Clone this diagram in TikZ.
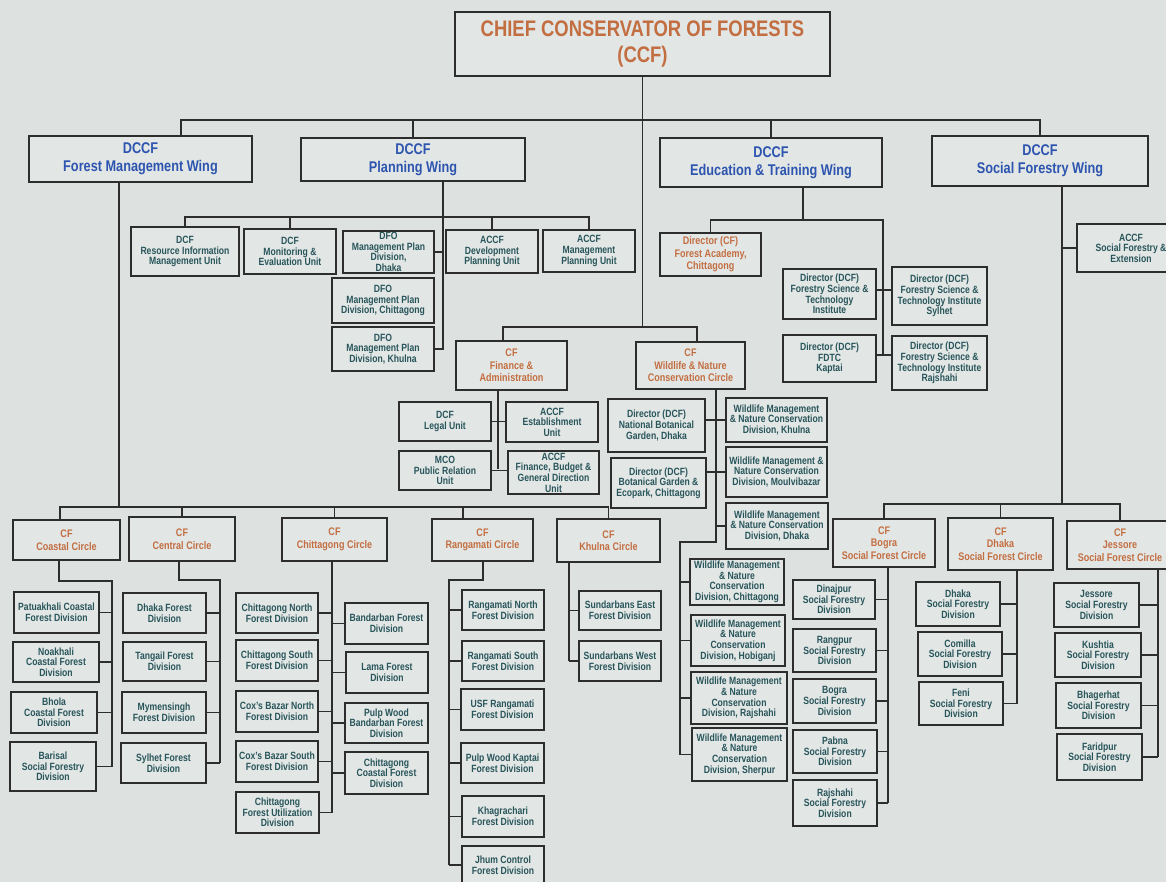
\documentclass[tikz,border=0pt]{standalone}
\usepackage{fontspec}
\setmainfont{Liberation Sans}[FakeStretch=0.82]
\usetikzlibrary{shadows}

\definecolor{paper}{RGB}{221,225,224}
\definecolor{boxfill}{RGB}{226,230,229}
\definecolor{inkline}{RGB}{45,45,45}
\definecolor{wingblue}{RGB}{45,85,175}
\definecolor{circorange}{RGB}{195,110,65}
\definecolor{unitteal}{RGB}{40,85,90}

\begin{document}
\begin{tikzpicture}[x=1pt, y=-1pt,
  link/.style={draw=inkline, line width=1.4pt},
  unitbox/.style={draw=inkline, line width=1.4pt, fill=boxfill, align=center,
    inner xsep=1pt, inner ysep=0pt, text=unitteal,
    font=\fontsize{10.5}{10.6}\selectfont\bfseries},
  circlebox/.style={unitbox, text=circorange, font=\fontsize{11}{12.5}\selectfont\bfseries},
  wingbox/.style={unitbox, text=wingblue, font=\fontsize{15.5}{18}\selectfont\bfseries},
  chiefbox/.style={unitbox, text=circorange, font=\fontsize{22.5}{26}\selectfont\bfseries},
  heavy/.style={drop shadow={shadow xshift=1.3pt, shadow yshift=-1.3pt, fill=inkline, opacity=1}}]
  % a box from its corners: [style]{name}{x1}{y1}{x2}{y2}{text}
  \newcommand{\orgbox}[7][unitbox]{%
    \node[#1, minimum width={(#5-#3)*1pt}, minimum height={(#6-#4)*1pt}]
      (#2) at ({(#3+#5)/2},{(#4+#6)/2}) {#7};}
  \useasboundingbox (0,0) rectangle (1166,882);
  \fill[paper] (0,0) rectangle (1166,882);

  % ---------------------------------------------------------------- head and wings
  \orgbox[chiefbox]{ccf}{455}{12}{830}{76}{CHIEF CONSERVATOR OF FORESTS\\(CCF)}
  \orgbox[wingbox,heavy]{fmw}{29}{136}{252}{182}{DCCF\\Forest Management Wing}
  \orgbox[wingbox]{plw}{301}{138}{525}{181}{DCCF\\Planning Wing}
  \orgbox[wingbox]{etw}{660}{138}{882}{187}{DCCF\\Education \& Training Wing}
  \orgbox[wingbox]{sfw}{932}{136}{1148}{186}{DCCF\\Social Forestry Wing}

  % ---------------------------------------------------------------- planning wing
  \orgbox{rim}{131}{227}{239}{276}{DCF\\Resource Information\\Management Unit}
  \orgbox{mne}{244}{229}{336}{274}{DCF\\Monitoring \&\\Evaluation Unit}
  \orgbox{dfod}{343}{231}{434}{273}{DFO\\Management Plan\\Division,\\Dhaka}
  \orgbox{acdev}{446}{230}{538}{273}{ACCF\\Development\\Planning Unit}
  \orgbox{acmgt}{543}{230}{635}{272}{ACCF\\Management\\Planning Unit}
  \orgbox{dfoc}{332}{278}{434}{323}{DFO\\Management Plan\\Division, Chittagong}
  \orgbox{dfok}{332}{327}{434}{371}{DFO\\Management Plan\\Division, Khulna}

  % ---------------------------------------------------------------- education wing
  \orgbox[circlebox]{fac}{660}{233}{761}{276}{Director (CF)\\Forest Academy,\\Chittagong}
  \orgbox{fsti}{783}{269}{876}{319}{Director (DCF)\\Forestry Science \&\\Technology\\Institute}
  \orgbox{fsts}{892}{267}{987}{325}{Director (DCF)\\Forestry Science \&\\Technology Institute\\Sylhet}
  \orgbox{fdtc}{783}{335}{876}{382}{Director (DCF)\\FDTC\\Kaptai}
  \orgbox{fstr}{892}{336}{987}{390}{Director (DCF)\\Forestry Science \&\\Technology Institute\\Rajshahi}

  % ---------------------------------------------------------------- social forestry wing
  \orgbox{acsf}{1077}{224}{1185}{272}{ACCF\\Social Forestry \&\\Extension}
  \orgbox[circlebox]{boc}{833}{519}{935}{567}{CF\\Bogra\\Social Forest Circle}
  \orgbox[circlebox]{dhc}{948}{518}{1053}{570}{CF\\Dhaka\\Social Forest Circle}
  \orgbox[circlebox]{jec}{1067}{521}{1173}{569}{CF\\Jessore\\Social Forest Circle}
  \orgbox{dina}{793}{580}{875}{619}{Dinajpur\\Social Forestry\\Division}
  \orgbox{rang}{793}{629}{876}{672}{Rangpur\\Social Forestry\\Division}
  \orgbox{bosf}{793}{679}{876}{723}{Bogra\\Social Forestry\\Division}
  \orgbox{pabn}{793}{730}{877}{773}{Pabna\\Social Forestry\\Division}
  \orgbox{rajs}{793}{780}{877}{826}{Rajshahi\\Social Forestry\\Division}
  \orgbox{dhsf}{916}{582}{1000}{626}{Dhaka\\Social Forestry\\Division}
  \orgbox{comi}{918}{632}{1002}{676}{Comilla\\Social Forestry\\Division}
  \orgbox{feni}{919}{682}{1003}{725}{Feni\\Social Forestry\\Division}
  \orgbox{jesf}{1054}{583}{1139}{627}{Jessore\\Social Forestry\\Division}
  \orgbox{kush}{1055}{633}{1141}{677}{Kushtia\\Social Forestry\\Division}
  \orgbox{bhag}{1056}{683}{1141}{728}{Bhagerhat\\Social Forestry\\Division}
  \orgbox{fari}{1057}{734}{1142}{780}{Faridpur\\Social Forestry\\Division}

  % ---------------------------------------------------------------- finance and wildlife
  \orgbox[circlebox]{fin}{456}{341}{567}{390}{CF\\Finance \&\\Administration}
  \orgbox[circlebox]{wl}{636}{342}{745}{389}{CF\\Wildlife \& Nature\\Conservation Circle}
  \orgbox{legal}{399}{402}{491}{441}{DCF\\Legal Unit}
  \orgbox{acest}{506}{402}{598}{442}{ACCF\\Establishment\\Unit}
  \orgbox{mco}{399}{451}{491}{490}{MCO\\Public Relation\\Unit}
  \orgbox{acfin}{508}{451}{599}{494}{ACCF\\Finance, Budget \&\\General Direction\\Unit}
  \orgbox{nbg}{608}{399}{705}{452}{Director (DCF)\\National Botanical\\Garden, Dhaka}
  \orgbox{bge}{611}{458}{706}{508}{Director (DCF)\\Botanical Garden \&\\Ecopark, Chittagong}
  \orgbox{wmk}{726}{398}{827}{442}{Wildlife Management\\\& Nature Conservation\\Division, Khulna}
  \orgbox{wmm}{726}{447}{827}{497}{Wildlife Management \&\\Nature Conservation\\Division, Moulvibazar}
  \orgbox{wmd}{726}{503}{828}{549}{Wildlife Management\\\& Nature Conservation\\Division, Dhaka}
  \orgbox{wmc}{690}{559}{784}{605}{Wildlife Management\\\& Nature\\Conservation\\Division, Chittagong}
  \orgbox{wmh}{691}{615}{785}{666}{Wildlife Management\\\& Nature\\Conservation\\Division, Hobiganj}
  \orgbox{wmr}{691}{672}{787}{724}{Wildlife Management\\\& Nature\\Conservation\\Division, Rajshahi}
  \orgbox{wms}{692}{728}{787}{781}{Wildlife Management\\\& Nature\\Conservation\\Division, Sherpur}

  % ---------------------------------------------------------------- forest management circles
  \orgbox[circlebox]{coc}{13}{520}{120}{560}{CF\\Coastal Circle}
  \orgbox[circlebox,heavy]{cec}{129}{517}{235}{561}{CF\\Central Circle}
  \orgbox[circlebox,heavy]{ctc}{282}{518}{387}{561}{CF\\Chittagong Circle}
  \orgbox[circlebox,heavy]{rac}{432}{519}{533}{561}{CF\\Rangamati Circle}
  \orgbox[circlebox,heavy]{khc}{557}{519}{660}{562}{CF\\Khulna Circle}
  \orgbox{patu}{14}{592}{99}{633}{Patuakhali Coastal\\Forest Division}
  \orgbox{noak}{13}{642}{99}{682}{Noakhali\\Coastal Forest\\Division}
  \orgbox{bhol}{11}{692}{97}{733}{Bhola\\Coastal Forest\\Division}
  \orgbox{bari}{10}{742}{96}{791}{Barisal\\Social Forestry\\Division}
  \orgbox{dhfd}{123}{593}{206}{633}{Dhaka Forest\\Division}
  \orgbox{tang}{123}{642}{206}{681}{Tangail Forest\\Division}
  \orgbox{myme}{122}{692}{206}{733}{Mymensingh\\Forest Division}
  \orgbox{sylf}{121}{743}{206}{783}{Sylhet Forest\\Division}
  \orgbox{ctn}{236}{593}{318}{633}{Chittagong North\\Forest Division}
  \orgbox{cts}{236}{640}{318}{681}{Chittagong South\\Forest Division}
  \orgbox{cxn}{236}{691}{318}{732}{Cox's Bazar North\\Forest Division}
  \orgbox{cxs}{236}{741}{318}{782}{Cox's Bazar South\\Forest Division}
  \orgbox{cfu}{236}{792}{319}{833}{Chittagong\\Forest Utilization\\Division}
  \orgbox{band}{345}{603}{428}{644}{Bandarban Forest\\Division}
  \orgbox{lama}{346}{652}{428}{693}{Lama Forest\\Division}
  \orgbox{pwb}{345}{703}{428}{743}{Pulp Wood\\Bandarban Forest\\Division}
  \orgbox{ccfd}{345}{752}{428}{794}{Chittagong\\Coastal Forest\\Division}
  \orgbox{ran}{462}{590}{544}{630}{Rangamati North\\Forest Division}
  \orgbox{ras}{462}{641}{544}{681}{Rangamati South\\Forest Division}
  \orgbox{usf}{461}{689}{544}{730}{USF Rangamati\\Forest Division}
  \orgbox{pwk}{461}{743}{544}{783}{Pulp Wood Kaptai\\Forest Division}
  \orgbox{khag}{462}{796}{544}{837}{Khagrachari\\Forest Division}
  \orgbox{jhum}{462}{846}{544}{884}{Jhum Control\\Forest Division}
  \orgbox{sbe}{579}{591}{661}{630}{Sundarbans East\\Forest Division}
  \orgbox{sbw}{579}{641}{661}{681}{Sundarbans West\\Forest Division}

  % ---------------------------------------------------------------- connectors
  \coordinate (busA) at (0,120);
  \draw[link] (fmw.north -| 181,0) |- (busA -| sfw.north) -- (sfw.north);
  \draw[link] (plw.north) -- (plw.north |- busA);
  \draw[link] (etw.north) -- (etw.north |- busA);
  % trunk to finance and wildlife
  \coordinate (finj) at (503,327);
  \coordinate (wlj) at (697,327);
  \draw[link] (ccf.south) -- (ccf.south |- finj);
  \draw[link] (fin.north -| finj) -- (finj) -- (wlj) -- (wl.north -| wlj);
  % planning
  \coordinate (busP) at (0,217);
  \coordinate (plx) at (443,0);
  \draw[link] (rim.north) |- (busP -| acmgt.north) -- (acmgt.north);
  \foreach \n in {mne,acdev} \draw[link] (\n.north) -- (\n.north |- busP);
  \draw[link] (plw.south -| plx) -- (plx |- dfok.east) -- (dfok.east);
  \draw[link] (dfod.east) -- (dfod.east -| plx);
  % education
  \coordinate (busE) at (0,220);
  \coordinate (edx) at (883,0);
  \draw[link] (etw.south -| 803,0) -- (803,220);
  \draw[link] (fac.north) |- (busE -| edx) -- (edx |- 0,355);
  \draw[link] (fsti.east |- 0,290) -- (fsts.west |- 0,290);
  \draw[link] (fdtc.east |- 0,355) -- (fstr.west |- 0,355);
  % social forestry
  \coordinate (sfx) at (1062,0);
  \coordinate (busS) at (0,504);
  \draw[link] (sfw.south -| sfx) -- (sfx |- busS);
  \draw[link] (acsf.west) -- (acsf.west -| sfx);
  \draw[link] (boc.north) |- (busS -| jec.north) -- (jec.north);
  \draw[link] (dhc.north) -- (dhc.north |- busS);
  \coordinate (bgx) at (888,0);
  \draw[link] (boc.south -| bgx) -- (bgx |- rajs.east);
  \foreach \n in {dina,rang,bosf,pabn,rajs} \draw[link] (\n.east) -- (\n.east -| bgx);
  \coordinate (dkx) at (1017,0);
  \draw[link] (dhc.south -| dkx) -- (dkx |- feni.east);
  \foreach \n in {dhsf,comi,feni} \draw[link] (\n.east) -- (\n.east -| dkx);
  \coordinate (jsx) at (1158,0);
  \draw[link] (jec.south -| jsx) -- (jsx |- fari.east);
  \foreach \n in {jesf,kush,bhag,fari} \draw[link] (\n.east) -- (\n.east -| jsx);
  % finance units
  \coordinate (fix) at (498,0);
  \draw[link] (fin.south -| fix) -- (fix |- 0,469);
  \draw[link] (legal.east) -- (legal.east -| acest.west);
  \draw[link] (mco.east) -- (mco.east -| acfin.west);
  % wildlife units
  \coordinate (wlx) at (716,0);
  \coordinate (wlx2) at (680,0);
  \draw[link] (wl.south -| wlx) -- (wlx |- 0,542) -| (wlx2 |- wms.west);
  \draw[link] (nbg.east |- wmk.west) -- (wmk.west);
  \draw[link] (bge.east |- wmm.west) -- (wmm.west);
  \draw[link] (wmd.west) -- (wmd.west -| wlx);
  \foreach \n in {wmc,wmh,wmr,wms} \draw[link] (\n.west) -- (\n.west -| wlx2);
  % forest management circles
  \coordinate (fmx) at (119,0);
  \coordinate (busB) at (0,507);
  \draw[link] (fmw.south -| fmx) -- (fmx |- busB);
  \draw[link] (coc.north -| 60,0) |- (busB -| khc.north) -- (khc.north);
  \foreach \n in {cec,ctc} \draw[link] (\n.north) -- (\n.north |- busB);
  \draw[link] (rac.north -| 463,0) -- (463,507);
  \coordinate (cox) at (112,0);
  \draw[link] (coc.south -| 59,0) -- (59,581) -| (cox |- bari.east);
  \foreach \n in {patu,noak,bhol,bari} \draw[link] (\n.east) -- (\n.east -| cox);
  \coordinate (cex) at (220,0);
  \draw[link] (cec.south -| 179,0) -- (179,580) -| (cex |- sylf.east);
  \foreach \n in {dhfd,tang,myme,sylf} \draw[link] (\n.east) -- (\n.east -| cex);
  \coordinate (ctx) at (332,0);
  \draw[link] (ctc.south -| ctx) -- (ctx |- cfu.east);
  \foreach \n in {ctn,cts,cxn,cxs,cfu} \draw[link] (\n.east) -- (\n.east -| ctx);
  \foreach \n in {band,lama,pwb,ccfd} \draw[link] (\n.west) -- (\n.west -| ctx);
  \coordinate (rax) at (449,0);
  \draw[link] (rac.south -| 483,0) -- (483,580) -| (rax |- jhum.west);
  \foreach \n in {ran,ras,usf,pwk,khag,jhum} \draw[link] (\n.west) -- (\n.west -| rax);
  \coordinate (khx) at (569,0);
  \draw[link] (khc.south -| khx) -- (khx |- sbw.west);
  \foreach \n in {sbe,sbw} \draw[link] (\n.west) -- (\n.west -| khx);
\end{tikzpicture}
\end{document}
